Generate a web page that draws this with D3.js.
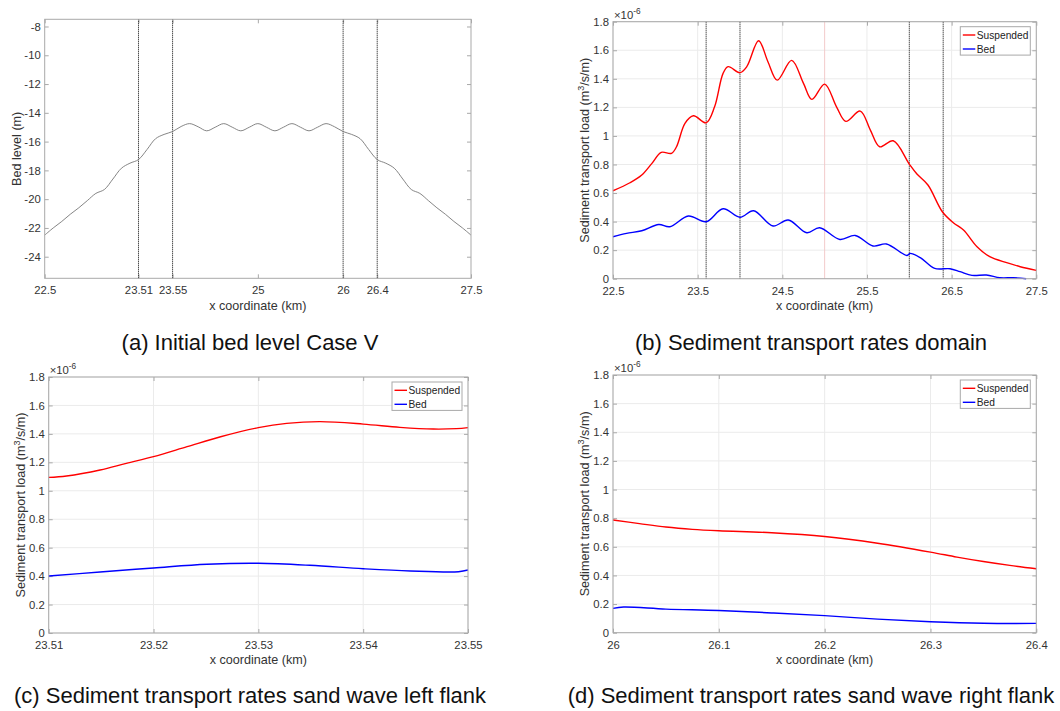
<!DOCTYPE html>
<html>
<head>
<meta charset="utf-8">
<script src="https://cdn.jsdelivr.net/npm/d3@7"></script>
<style>
  body { margin: 0; background: #fff; }
  svg { display: block; font-family: "Liberation Sans", Arial, Helvetica, sans-serif; }
</style>
</head>
<body>
<svg id="fig" width="1060" height="711"></svg>
<script>
// ---------- (a) Initial bed level, Case V ----------
const bedX = [22.5, 22.6, 22.7, 22.8, 22.9, 23.0, 23.1, 23.2, 23.3, 23.4,
              23.5, 23.6, 23.7, 23.8, 23.9, 24.0, 24.1, 24.2, 24.3, 24.4,
              24.5, 24.6, 24.7, 24.8, 24.9, 25.0, 25.1, 25.2, 25.3, 25.4,
              25.5, 25.6, 25.7, 25.8, 25.9, 26.0, 26.1, 26.2, 26.3, 26.4,
              26.5, 26.6, 26.7, 26.8, 26.9, 27.0, 27.1, 27.2, 27.3, 27.4, 27.5];
const bedLevel = [-22.5, -22.0, -21.55, -21.05, -20.6, -20.1, -19.6, -19.33, -18.6, -17.85,
                  -17.5, -17.25, -16.55, -15.8, -15.5, -15.3, -14.95, -14.75, -14.97, -15.25,
                  -15.0, -14.75, -15.0, -15.25, -15.0, -14.75, -15.0, -15.25, -15.0, -14.75,
                  -15.0, -15.25, -15.0, -14.75, -14.97, -15.3, -15.5, -15.8, -16.55, -17.25,
                  -17.5, -17.85, -18.6, -19.33, -19.6, -20.1, -20.6, -21.05, -21.55, -22.0, -22.5];
const flankMarkers = [23.6, 24.0, 26.0, 26.4];
const bedXTicks = [22.5, 23.6, 24.0, 25, 26, 26.4, 27.5];
const bedXTickLabels = ["22.5", "23.51", "23.55", "25", "26", "26.4", "27.5"];
const bedYTicks = [-24, -22, -20, -18, -16, -14, -12, -10, -8];

// ---------- (b) Sediment transport rates, whole domain (x 1e-6 m3/s/m) ----------
const domSuspX = [22.5, 22.7, 22.84, 22.96, 23.07, 23.19, 23.25, 23.35, 23.45, 23.6,
                  23.7, 23.8, 23.86, 24.0, 24.08, 24.22, 24.33, 24.44, 24.61, 24.75,
                  24.85, 25.0, 25.14, 25.25, 25.42, 25.54, 25.65, 25.81, 26.0, 26.09,
                  26.22, 26.39, 26.52, 26.64, 26.8, 26.95, 27.15, 27.31, 27.5];
const domSusp = [0.616, 0.672, 0.726, 0.808, 0.885, 0.878, 0.924, 1.088, 1.141, 1.092,
                 1.204, 1.438, 1.485, 1.443, 1.485, 1.667, 1.52, 1.391, 1.529, 1.368,
                 1.256, 1.363, 1.204, 1.102, 1.174, 1.041, 0.924, 0.966, 0.803, 0.733,
                 0.656, 0.469, 0.392, 0.341, 0.224, 0.154, 0.112, 0.084, 0.058];
const domBedX = [22.5, 22.66, 22.84, 23.04, 23.17, 23.39, 23.6, 23.8, 24.0, 24.16,
                 24.39, 24.57, 24.79, 24.94, 25.18, 25.36, 25.57, 25.73, 25.97, 26.01,
                 26.13, 26.3, 26.48, 26.6, 26.74, 26.91, 27.07, 27.23, 27.38];
const domBed = [0.294, 0.317, 0.336, 0.380, 0.364, 0.439, 0.399, 0.490, 0.430, 0.476,
                0.369, 0.411, 0.322, 0.357, 0.275, 0.303, 0.229, 0.243, 0.163, 0.177,
                0.147, 0.072, 0.070, 0.049, 0.023, 0.026, 0.007, 0.007, 0.0];
const domXTicks = [22.5, 23.5, 24.5, 25.5, 26.5, 27.5];
const crestMarker = [25];

// ---------- (c) Left flank ----------
const leftSuspX = [23.51, 23.5117, 23.5149, 23.5174, 23.52, 23.5232, 23.5264, 23.53,
                   23.5327, 23.5359, 23.54, 23.5435, 23.5467, 23.5489, 23.55];
const leftSusp = [1.094, 1.104, 1.146, 1.193, 1.240, 1.310, 1.380, 1.444,
                  1.474, 1.486, 1.469, 1.446, 1.434, 1.437, 1.444];
const leftBedX = [23.51, 23.5149, 23.52, 23.5251, 23.53, 23.5349, 23.54, 23.5445, 23.5491, 23.55];
const leftBed = [0.401, 0.429, 0.457, 0.483, 0.490, 0.476, 0.452, 0.436, 0.431, 0.443];
const leftXTicks = [23.51, 23.52, 23.53, 23.54, 23.55];

// ---------- (d) Right flank ----------
const rightSuspX = [26.0, 26.025, 26.05, 26.075, 26.1, 26.15, 26.2, 26.25,
                    26.3, 26.325, 26.35, 26.375, 26.4];
const rightSusp = [0.787, 0.762, 0.738, 0.722, 0.712, 0.698, 0.672, 0.625,
                   0.563, 0.528, 0.497, 0.470, 0.447];
const rightBedX = [26.0, 26.01, 26.05, 26.1, 26.15, 26.2, 26.25, 26.3, 26.35, 26.4];
const rightBed = [0.170, 0.179, 0.165, 0.155, 0.138, 0.119, 0.095, 0.077, 0.066, 0.065];
const rightXTicks = [26.0, 26.1, 26.2, 26.3, 26.4];

const loadYTicks = [0, 0.2, 0.4, 0.6, 0.8, 1.0, 1.2, 1.4, 1.6, 1.8];
const seriesNames = ["Suspended", "Bed"];
const seriesColors = ["#ff0000", "#0000ff"];

const captions = [
  "(a) Initial bed level Case V",
  "(b) Sediment transport rates domain",
  "(c) Sediment transport rates sand wave left flank",
  "(d) Sediment transport rates sand wave right flank"
];

// ---------- drawing ----------
const svg = d3.select("#fig");
const AXIS = "#a9a9a9", GRID = "#ebebeb", TXT = "#333";
const TICK_FS = 11.3, LABEL_FS = 12.6, LEG_FS = 10.2;
const fmt = v => String(+v.toFixed(4));

function drawPanel(p) {
  const g = svg.append("g");
  const x = d3.scaleLinear().domain(p.xDomain).range([p.left, p.right]);
  const y = d3.scaleLinear().domain(p.yDomain).range([p.bottom, p.top]);

  if (p.grid) {
    g.append("g").selectAll("line.gx").data(p.xTicks).join("line")
      .attr("x1", d => x(d)).attr("x2", d => x(d))
      .attr("y1", p.top).attr("y2", p.bottom)
      .attr("stroke", GRID).attr("stroke-width", 1);
    g.append("g").selectAll("line.gy").data(p.yTicks).join("line")
      .attr("x1", p.left).attr("x2", p.right)
      .attr("y1", d => y(d)).attr("y2", d => y(d))
      .attr("stroke", GRID).attr("stroke-width", 1);
  }
  if (p.marks) {
    g.append("g").selectAll("line").data(p.marks).join("line")
      .attr("x1", d => x(d)).attr("x2", d => x(d))
      .attr("y1", p.top).attr("y2", p.bottom)
      .attr("stroke", "#f3caca").attr("stroke-width", 1);
  }

  // axes: ticks point inward on all four sides
  const styleAxis = sel => {
    sel.select(".domain").remove();
    sel.selectAll(".tick line").attr("stroke", AXIS);
    sel.selectAll(".tick text").attr("fill", TXT).attr("font-size", TICK_FS)
      .attr("font-family", "Liberation Sans, Arial, sans-serif");
  };
  const xf = p.xLabels ? (d => p.xLabels[p.xTicks.indexOf(d)]) : fmt;
  g.append("g").attr("transform", `translate(0,${p.bottom})`)
    .call(d3.axisBottom(x).tickValues(p.xTicks).tickFormat(xf)
      .tickSizeInner(-4).tickSizeOuter(0).tickPadding(8)).call(styleAxis);
  g.append("g").attr("transform", `translate(0,${p.top})`)
    .call(d3.axisTop(x).tickValues(p.xTicks).tickFormat("")
      .tickSizeInner(-4).tickSizeOuter(0)).call(styleAxis);
  g.append("g").attr("transform", `translate(${p.left},0)`)
    .call(d3.axisLeft(y).tickValues(p.yTicks).tickFormat(fmt)
      .tickSizeInner(-4).tickSizeOuter(0).tickPadding(4)).call(styleAxis);
  g.append("g").attr("transform", `translate(${p.right},0)`)
    .call(d3.axisRight(y).tickValues(p.yTicks).tickFormat("")
      .tickSizeInner(-4).tickSizeOuter(0)).call(styleAxis);

  // vertical flank markers
  if (p.flanks) {
    g.append("g").selectAll("line").data(p.flanks).join("line")
      .attr("x1", d => x(d)).attr("x2", d => x(d))
      .attr("y1", p.top).attr("y2", p.bottom)
      .attr("stroke", "#000").attr("stroke-width", 1)
      .attr("stroke-dasharray", "1,1");
  }

  // data lines
  const line = d3.line().x(d => x(d[0])).y(d => y(d[1]))
    .curve(d3.curveCatmullRom.alpha(0.5));
  p.series.forEach(s => {
    g.append("path").datum(d3.zip(s.x, s.y))
      .attr("d", line).attr("fill", "none")
      .attr("stroke", s.color).attr("stroke-width", s.width)
      .attr("stroke-linejoin", "round");
  });

  // plot box
  g.append("rect").attr("x", p.left).attr("y", p.top)
    .attr("width", p.right - p.left).attr("height", p.bottom - p.top)
    .attr("fill", "none").attr("stroke", AXIS).attr("stroke-width", 1);

  // exponent label
  if (p.exponent) {
    const t = g.append("text").attr("x", p.left + 1).attr("y", p.top - 3)
      .attr("font-size", TICK_FS).attr("fill", TXT);
    t.append("tspan").text("\u00d710");
    t.append("tspan").attr("dy", -5).attr("font-size", 8.3).text("-6");
  }

  // axis labels
  g.append("text").attr("x", (p.left + p.right) / 2).attr("y", p.bottom + 31.3)
    .attr("text-anchor", "middle").attr("font-size", LABEL_FS).attr("fill", TXT)
    .text("x coordinate (km)");
  const yl = g.append("text")
    .attr("transform", `translate(${p.left - 28.5 + 4.4},${(p.top + p.bottom) / 2}) rotate(-90)`)
    .attr("text-anchor", "middle").attr("font-size", LABEL_FS).attr("fill", TXT);
  if (p.yLabelSup) {
    yl.append("tspan").text(p.yLabel[0]);
    yl.append("tspan").attr("dy", -5).attr("font-size", 9).text(p.yLabelSup);
    yl.append("tspan").attr("dy", 5).text(p.yLabel[1]);
  } else {
    yl.text(p.yLabel);
  }

  // legend
  if (p.legend) {
    const lx = p.right - 6 - 70, ly = p.top + 5;
    const lg = g.append("g").attr("transform", `translate(${lx},${ly})`);
    lg.append("rect").attr("width", 70).attr("height", 28.4)
      .attr("fill", "#fff").attr("stroke", AXIS).attr("stroke-width", 1);
    seriesNames.forEach((n, i) => {
      const cy = 8.3 + i * 14;
      lg.append("line").attr("x1", 2.5).attr("x2", 15).attr("y1", cy).attr("y2", cy)
        .attr("stroke", seriesColors[i]).attr("stroke-width", 1.4);
      lg.append("text").attr("x", 16.5).attr("y", cy + 3.6)
        .attr("font-size", LEG_FS).attr("fill", "#222").text(n);
    });
  }

  // caption
  g.append("text").attr("x", p.capX).attr("y", p.capY)
    .attr("text-anchor", "middle").attr("font-size", 22).attr("fill", "#111")
    .text(p.caption);
}

const loadLabel = ["Sediment transport load (m", "/s/m)"];

drawPanel({
  left: 44.7, right: 471, top: 19.3, bottom: 278.3,
  xDomain: [22.5, 27.5], yDomain: [-25.5, -7.5],
  xTicks: bedXTicks, xLabels: bedXTickLabels, yTicks: bedYTicks,
  grid: false, flanks: flankMarkers,
  series: [{ x: bedX, y: bedLevel, color: "#777", width: 0.9 }],
  yLabel: "Bed level (m)",
  caption: captions[0], capX: 250, capY: 349.5
});

drawPanel({
  left: 613, right: 1036.3, top: 21.7, bottom: 278.7,
  xDomain: [22.5, 27.5], yDomain: [0, 1.8],
  xTicks: domXTicks, yTicks: loadYTicks,
  grid: true, marks: crestMarker, flanks: flankMarkers,
  series: [
    { x: domSuspX, y: domSusp, color: seriesColors[0], width: 1.4 },
    { x: domBedX, y: domBed, color: seriesColors[1], width: 1.4 }
  ],
  exponent: true, legend: true,
  yLabel: loadLabel, yLabelSup: "3",
  caption: captions[1], capX: 811, capY: 349.5
});

drawPanel({
  left: 48.7, right: 468, top: 377, bottom: 633,
  xDomain: [23.51, 23.55], yDomain: [0, 1.8],
  xTicks: leftXTicks, yTicks: loadYTicks,
  grid: true,
  series: [
    { x: leftSuspX, y: leftSusp, color: seriesColors[0], width: 1.4 },
    { x: leftBedX, y: leftBed, color: seriesColors[1], width: 1.4 }
  ],
  exponent: true, legend: true,
  yLabel: loadLabel, yLabelSup: "3",
  caption: captions[2], capX: 250, capY: 703
});

drawPanel({
  left: 613, right: 1036.3, top: 375, bottom: 632.7,
  xDomain: [26.0, 26.4], yDomain: [0, 1.8],
  xTicks: rightXTicks, yTicks: loadYTicks,
  grid: true,
  series: [
    { x: rightSuspX, y: rightSusp, color: seriesColors[0], width: 1.4 },
    { x: rightBedX, y: rightBed, color: seriesColors[1], width: 1.4 }
  ],
  exponent: true, legend: true,
  yLabel: loadLabel, yLabelSup: "3",
  caption: captions[3], capX: 811, capY: 703
});
</script>
</body>
</html>
